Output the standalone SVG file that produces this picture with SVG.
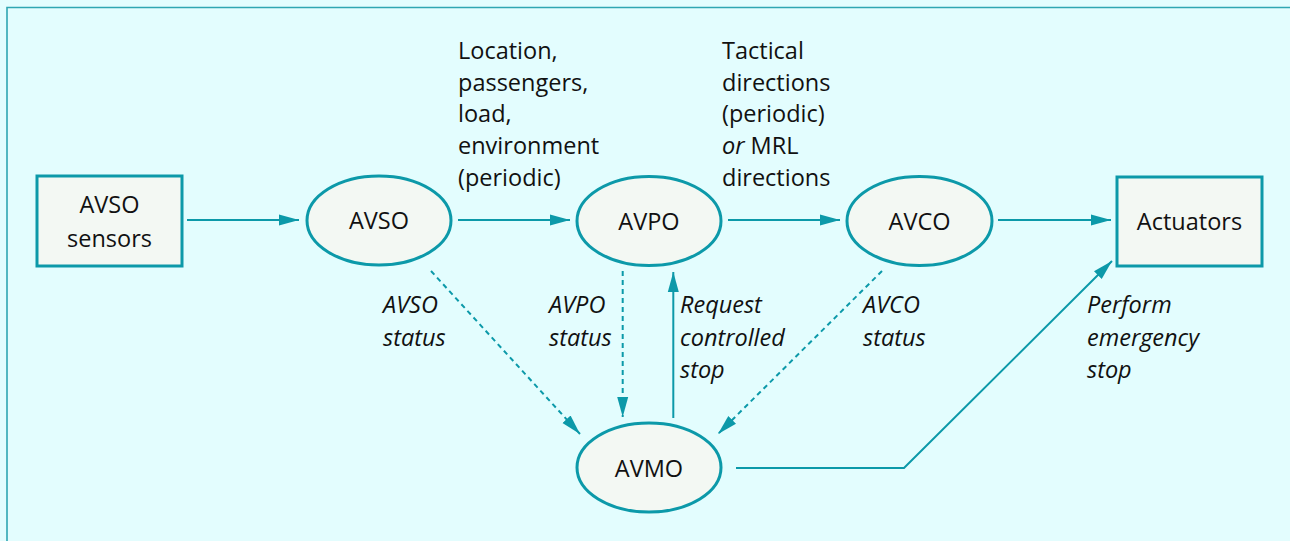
<svg xmlns="http://www.w3.org/2000/svg" width="1290" height="541" viewBox="0 0 1290 541">
  <defs>
    <style>
      .node { fill: #F3F8F3; stroke: #0C99A9; stroke-width: 3; }
      .edge { fill: none; stroke: #0C99A9; stroke-width: 2; }
      .dash { stroke-dasharray: 5 4; }
      .lbl { font-family: "Open Sans", "Noto Sans", sans-serif; font-size: 23.5px; fill: #111; }
      .it { font-style: italic; }
      .c { text-anchor: middle; }
    </style>
    <marker id="arrow" markerUnits="userSpaceOnUse" markerWidth="20" markerHeight="12" refX="20" refY="6" orient="auto">
      <path d="M0,0.5 L20,6 L0,11.5 z" fill="#0C99A9"/>
    </marker>
  </defs>

  <!-- background panel with its left and top rule -->
  <rect x="0" y="0" width="1290" height="541" fill="#E3FDFE"/>
  <path d="M7,541 V7.5 H1290" fill="none" stroke="#2FA6B2" stroke-width="1.6"/>

  <!-- connectors -->
  <g id="connectors">
    <line class="edge" x1="187" y1="220" x2="299" y2="220" marker-end="url(#arrow)"/>
    <line class="edge" x1="458" y1="220" x2="570" y2="220" marker-end="url(#arrow)"/>
    <line class="edge" x1="728" y1="220" x2="840" y2="220" marker-end="url(#arrow)"/>
    <line class="edge" x1="998" y1="220" x2="1111" y2="220" marker-end="url(#arrow)"/>
    <line class="edge dash" x1="431" y1="271" x2="580" y2="434" marker-end="url(#arrow)"/>
    <line class="edge dash" x1="622.7" y1="271" x2="622.7" y2="417" marker-end="url(#arrow)"/>
    <line class="edge" x1="673.3" y1="418" x2="673.3" y2="272" marker-end="url(#arrow)"/>
    <line class="edge dash" x1="882" y1="271" x2="718" y2="434" marker-end="url(#arrow)"/>
    <polyline class="edge" points="736,468 904,468 1112,261" marker-end="url(#arrow)"/>
  </g>

  <!-- connector labels -->
  <g id="edge-labels" class="lbl">
    <text x="458" y="59">Location,</text>
    <text x="458" y="90.7">passengers,</text>
    <text x="458" y="122.3">load,</text>
    <text x="458" y="154">environment</text>
    <text x="458" y="185.7">(periodic)</text>

    <text x="722" y="59">Tactical</text>
    <text x="722" y="90.7">directions</text>
    <text x="722" y="122.3">(periodic)</text>
    <text x="722" y="154"><tspan class="it">or</tspan> MRL</text>
    <text x="722" y="185.7">directions</text>

    <text class="it" x="383" y="313">AVSO</text>
    <text class="it" x="383" y="346">status</text>

    <text class="it" x="549" y="313">AVPO</text>
    <text class="it" x="549" y="346">status</text>

    <text class="it" x="680" y="313">Request</text>
    <text class="it" x="680" y="346">controlled</text>
    <text class="it" x="680" y="378">stop</text>

    <text class="it" x="863" y="313">AVCO</text>
    <text class="it" x="863" y="346">status</text>

    <text class="it" x="1087" y="313">Perform</text>
    <text class="it" x="1087" y="346">emergency</text>
    <text class="it" x="1087" y="378">stop</text>
  </g>

  <!-- nodes -->
  <g id="avso-sensors">
    <rect class="node" x="37" y="176" width="145" height="90"/>
    <text class="lbl c" x="109.5" y="213">AVSO</text>
    <text class="lbl c" x="109.5" y="247">sensors</text>
  </g>
  <g id="avso">
    <ellipse class="node" cx="379" cy="220.5" rx="72" ry="44.5"/>
    <text class="lbl c" x="379" y="229">AVSO</text>
  </g>
  <g id="avpo">
    <ellipse class="node" cx="649" cy="221" rx="72" ry="44.5"/>
    <text class="lbl c" x="649" y="230">AVPO</text>
  </g>
  <g id="avco">
    <ellipse class="node" cx="919.5" cy="221" rx="72.5" ry="44.5"/>
    <text class="lbl c" x="919.5" y="230">AVCO</text>
  </g>
  <g id="actuators">
    <rect class="node" x="1117" y="177" width="145" height="89"/>
    <text class="lbl c" x="1189.5" y="230">Actuators</text>
  </g>
  <g id="avmo">
    <ellipse class="node" cx="649" cy="467.5" rx="72" ry="44.5"/>
    <text class="lbl c" x="649" y="477">AVMO</text>
  </g>
</svg>
